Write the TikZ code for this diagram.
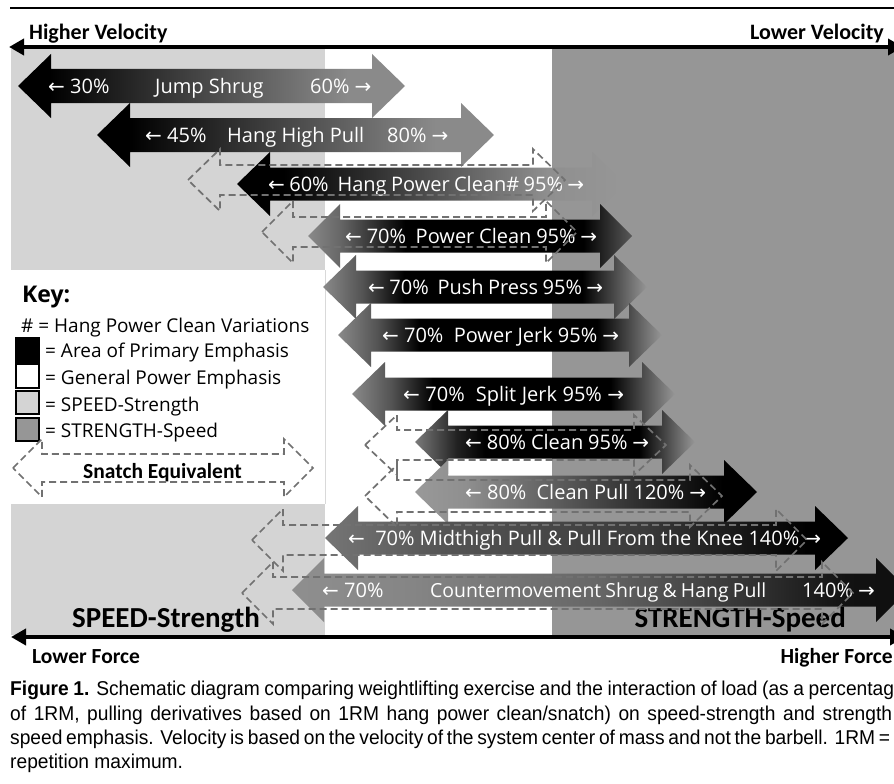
\documentclass[tikz,border=0pt]{standalone}
\usepackage{fontspec}
\setmainfont{Open Sans}
\newfontfamily\osans{Open Sans}
\newfontfamily\arw{DejaVu Sans}
\newfontfamily\carl{Carlito}
\newfontfamily\capf[FakeStretch=0.96]{Liberation Sans}
\usetikzlibrary{arrows.meta}
\definecolor{lgray}{HTML}{D4D4D4}
\definecolor{dgray}{HTML}{969696}
\definecolor{dashc}{HTML}{717171}
\newcommand\myla{{\arw ←}}
\newcommand\myra{{\arw →}}
% generic double block arrow: L, R, c, head length, head half height, shaft half height
\newcommand\dblpath[6]{(#1,#3) -- (#1+#4,#3-#5) -- (#1+#4,#3-#6) -- (#2-#4,#3-#6) -- (#2-#4,#3-#5) -- (#2,#3) -- (#2-#4,#3+#5) -- (#2-#4,#3+#6) -- (#1+#4,#3+#6) -- (#1+#4,#3+#5) -- cycle}
\pgfdeclarehorizontalshading{shA}{100bp}{color(0bp)=(black); color(29bp)=(black); color(67.5bp)=(black!46); color(100bp)=(black!46)}
\pgfdeclarehorizontalshading{shB}{100bp}{color(0bp)=(black); color(31bp)=(black); color(65bp)=(black!44); color(75bp)=(black!41); color(100bp)=(black!41)}
\pgfdeclarehorizontalshading{shC}{100bp}{color(0bp)=(black!46); color(25bp)=(black!46); color(30bp)=(black!60); color(40bp)=(black); color(67.5bp)=(black); color(75bp)=(black!65); color(100bp)=(black!65)}
\pgfdeclarehorizontalshading{shD}{100bp}{color(0bp)=(black!46); color(25bp)=(black!46); color(31bp)=(black!67); color(37.5bp)=(black); color(65bp)=(black); color(75bp)=(black!41); color(100bp)=(black!41)}
\pgfdeclarehorizontalshading{shE}{100bp}{color(0bp)=(black!52); color(25bp)=(black!52); color(32.5bp)=(black!87); color(37.5bp)=(black); color(65bp)=(black); color(75bp)=(black!41); color(100bp)=(black!41)}
\pgfdeclarehorizontalshading{shF}{100bp}{color(0bp)=(black!40); color(25bp)=(black!40); color(32.5bp)=(black!44); color(70bp)=(black); color(100bp)=(black)}
\pgfdeclarehorizontalshading{shG}{100bp}{color(0bp)=(black!54); color(25bp)=(black!54); color(36.5bp)=(black!67); color(55.5bp)=(black!77); color(71bp)=(black); color(100bp)=(black)}
\pgfdeclarehorizontalshading{shH}{100bp}{color(0bp)=(black!44); color(25bp)=(black!44); color(35bp)=(black!48); color(50bp)=(black!60); color(70bp)=(black!93); color(100bp)=(black)}
\tikzset{
  lbl/.style={text=white, font=\osans\fontsize{20}{22}\selectfont, inner sep=0pt, anchor=base west},
  keytxt/.style={text=black, font=\osans\fontsize{19}{21}\selectfont, inner sep=0pt, anchor=base west},
  hd/.style={text=black, font=\carl\bfseries\fontsize{22}{24}\selectfont, inner sep=0pt},
  bighd/.style={text=black, font=\carl\bfseries\fontsize{29}{31}\selectfont, inner sep=0pt},
  captxt/.style={text=black, font=\capf\fontsize{20}{22}\selectfont, inner sep=0pt, anchor=base west},
  dasharrow/.style={draw=dashc, line width=1.7pt, dash pattern=on 7pt off 4pt},
  keybox/.style={draw=black, line width=1.2pt},
  axisarrow/.style={line width=4pt, {Triangle[length=15pt,width=16pt]}-{Triangle[length=15pt,width=16pt]}}
}
\begin{document}
\begin{tikzpicture}[x=1pt,y=-1pt]
\useasboundingbox (0,0) rectangle (894,784);
\begin{scope}
\clip (0,0) rectangle (894,784);
\fill[white] (0,0) rectangle (894,784);
% background zones
\fill[lgray] (11,49) rectangle (325,270);
\fill[lgray] (11,504) rectangle (325,635);
\fill[dgray] (552,49) rectangle (894,635);
\draw[black!15, line width=0.8pt] (325,270) -- (325,504);
% top rule and axes
\draw[line width=1.5pt] (10,8) -- (894,8);
\draw[axisarrow] (9,47) -- (903,47);
\draw[axisarrow] (11,637) -- (905,637);
% solid arrows
\shade[shading=shA] \dblpath{18}{405}{86}{33}{32}{17};
\shade[shading=shA] \dblpath{97}{494}{135}{33}{32}{17};
\shade[shading=shB] \dblpath{237}{625}{184}{33}{32}{16.5};
\shade[shading=shC] \dblpath{308}{632}{236}{32}{32}{16.5};
\shade[shading=shD] \dblpath{323}{647}{287}{33}{32}{16.5};
\shade[shading=shD] \dblpath{338}{662}{335}{33}{32}{16.5};
\shade[shading=shD] \dblpath{352}{675}{394}{33}{32}{16.5};
\shade[shading=shE] \dblpath{415}{695}{442}{33}{32}{16.5};
\shade[shading=shF] \dblpath{415}{757}{492}{33}{32}{16.5};
\shade[shading=shG] \dblpath{325}{848}{538}{33}{32}{16.5};
\shade[shading=shH] \dblpath{292}{908}{590}{32}{32}{16.5};
% arrow labels
\node[lbl] (js1) at (48,93.5) {\myla{} 30\%};
\node[lbl] (js2) at (155,93.5) {Jump Shrug};
\node[lbl] (js3) at (310,93.5) {60\% \myra};
\node[lbl] (hh1) at (145,142.5) {\myla{} 45\%};
\node[lbl] (hh2) at (227,142.5) {Hang High Pull};
\node[lbl] (hh3) at (387,142.5) {80\% \myra};
\node[lbl] (hpc) at (268,191.5) {\makebox[316pt][s]{\myla{} 60\%\ \ Hang Power Clean\# 95\% \myra}};
\node[lbl] (pc) at (345,243.5) {\makebox[252pt][s]{\myla{} 70\%\ \ Power Clean 95\% \myra}};
\node[lbl] (pp) at (368,294.5) {\makebox[235pt][s]{\myla{} 70\%\ \ Push Press 95\% \myra}};
\node[lbl] (pj) at (382,342.5) {\makebox[237pt][s]{\myla{} 70\%\ \ Power Jerk 95\% \myra}};
\node[lbl] (sj) at (403,401.5) {\makebox[221pt][s]{\myla{} 70\%\ \ Split Jerk 95\% \myra}};
\node[lbl] (cl) at (465,449.5) {\makebox[184pt][s]{\myla{} 80\% Clean 95\% \myra}};
\node[lbl] (cp) at (465,499.5) {\makebox[241pt][s]{\myla{} 80\%\ \ Clean Pull 120\% \myra}};
\node[lbl] (mt) at (348,545.5) {\makebox[473pt][s]{\myla{}\ \ 70\% Midthigh Pull \& Pull From the Knee 140\% \myra}};
\node[lbl] (cm1) at (322,597.5) {\myla{} 70\%};
\node[lbl, font=\osans\fontsize{19.4}{22}\selectfont] (cm2) at (430,597.5) {\makebox[336pt][s]{Countermovement Shrug \& Hang Pull}};
\node[lbl] (cm3) at (802,597.5) {140\% \myra};
% key
\node[anchor=base west, inner sep=0pt, font=\osans\bfseries\fontsize{23}{25}\selectfont] (key) at (22,302) {Key:};
\node[keytxt] (k0) at (21,332) {\# = Hang Power Clean Variations};
\draw[keybox, fill=black] (16,338) rectangle (39,362);
\draw[keybox, fill=white] (16,364) rectangle (39,388);
\draw[keybox, fill=lgray] (16,391) rectangle (39,414);
\draw[keybox, fill=dgray] (16,418) rectangle (39,441);
\node[keytxt] (k1) at (45,357) {= Area of Primary Emphasis};
\node[keytxt] (k2) at (45,384) {= General Power Emphasis};
\node[keytxt] (k3) at (45,411) {= SPEED-Strength};
\node[keytxt] (k4) at (45,437) {= STRENGTH-Speed};
\node[hd, anchor=base west, font=\carl\bfseries\fontsize{21.5}{23}\selectfont] (se) at (83,478) {Snatch Equivalent};
% headings
\node[hd, anchor=base west] (hv) at (29,40) {Higher Velocity};
\node[hd, anchor=base east] (lv) at (884,40) {Lower Velocity};
\node[bighd, anchor=base west] (ss) at (72,627) {SPEED-Strength};
\node[bighd, anchor=base east] (sts) at (846,627) {STRENGTH-Speed};
\node[hd, anchor=base west, font=\carl\bfseries\fontsize{21.5}{23}\selectfont] (lf) at (32,663) {Lower Force};
\node[hd, anchor=base east, font=\carl\bfseries\fontsize{21.5}{23}\selectfont] (hf) at (893,663) {Higher Force};
% dashed snatch-equivalent arrows
\draw[dasharrow] \dblpath{188}{565}{180}{32}{31}{15};
\draw[dasharrow] \dblpath{262}{577}{232}{31}{31}{15};
\draw[dasharrow] \dblpath{365}{666}{445}{32}{30}{15};
\draw[dasharrow] \dblpath{365}{722}{496}{32}{31}{16};
\draw[dasharrow] \dblpath{252}{807}{540}{31}{31}{15};
\draw[dasharrow] \dblpath{242}{853}{593}{31}{31}{16};
\draw[dasharrow] \dblpath{13}{313}{468}{29}{29}{14};
% caption
\node[captxt] (c1) at (10,695) {\makebox[884pt][s]{\textbf{Figure 1.} Schematic diagram comparing weightlifting exercise and the interaction of load (as a percentag}};
\node[captxt] (c2) at (10,720) {\makebox[882pt][s]{of 1RM, pulling derivatives based on 1RM hang power clean/snatch) on speed-strength and strength}};
\node[captxt] (c3) at (10,744) {\makebox[880pt][s]{speed emphasis. Velocity is based on the velocity of the system center of mass and not the barbell. 1RM =}};
\node[captxt] (c4) at (10,768) {repetition maximum.};
\end{scope}
\end{tikzpicture}
\end{document}
